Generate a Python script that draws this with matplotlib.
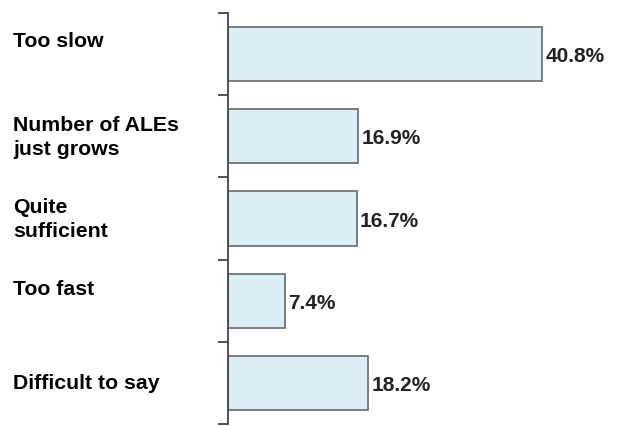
import numpy as np
import matplotlib.pyplot as plt
import matplotlib.transforms as mtransforms

# data
categorias = ['Too slow', 'Number of ALEs\njust grows', 'Quite\nsufficient', 'Too fast', 'Difficult to say']
valores = [40.8, 16.9, 16.7, 7.4, 18.2]
rotulos = ['40.8%', '16.9%', '16.7%', '7.4%', '18.2%']

plt.rcParams['font.family'] = ['Liberation Sans', 'DejaVu Sans']

fig = plt.figure(figsize=(6.2, 4.27), dpi=100)
ax = fig.add_axes([228 / 620, 2 / 427, 392 / 620, 411 / 427])

y = np.arange(len(categorias))
ax.barh(y, valores, height=0.66, color='#dbeef6', edgecolor='#6f7478', linewidth=1.3)

ax.set_ylim(len(categorias) - 0.5, -0.5)
ax.set_xlim(0, 392 / 7.7)

# rótulos de valor
for yi, v, r in zip(y, valores, rotulos):
    ax.text(v + 0.4, yi + 0.02, r, va='center', ha='left', fontsize=15,
            fontweight='bold', color='#222222')

# categorias à esquerda
trans = mtransforms.blended_transform_factory(fig.transFigure, ax.transData)
desloc = [-0.16, 0, 0, -0.15, 0]
for yi, c, d in zip(y, categorias, desloc):
    ax.text(13 / 620, yi + d, c, transform=trans, va='center', ha='left',
            fontsize=15.3, fontweight='bold', color='black', linespacing=1.3)

ax.set_yticks(np.arange(-0.5, len(categorias), 1.0))
ax.set_yticklabels([])
ax.set_xticks([])
ax.tick_params(axis='y', direction='out', length=7, width=1.3, color='#444444')
for s in ['top', 'right', 'bottom']:
    ax.spines[s].set_visible(False)
ax.spines['left'].set_color('#444444')
ax.spines['left'].set_linewidth(1.3)

fig.savefig('out.png', dpi=100)
